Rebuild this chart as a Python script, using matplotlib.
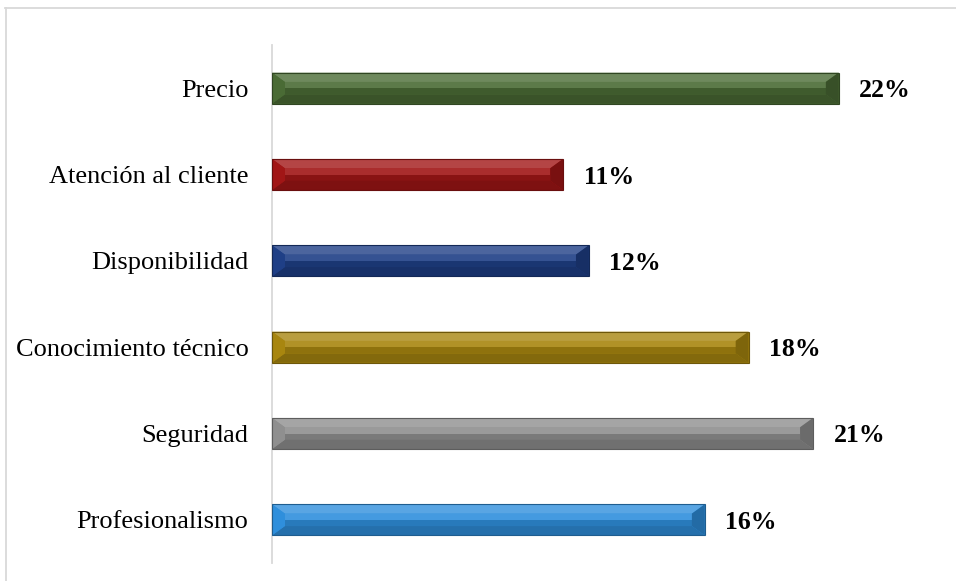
import numpy as np
import matplotlib
matplotlib.use('Agg')
import matplotlib.pyplot as plt
from matplotlib.patches import Polygon
from matplotlib.lines import Line2D
from matplotlib.colors import to_rgb

# 数据
categorias = ['Profesionalismo', 'Seguridad', 'Conocimiento técnico',
              'Disponibilidad', 'Atención al cliente', 'Precio']
valores = [16.8, 21.0, 18.5, 12.3, 11.3, 22.0]
etiquetas = ['16%', '21%', '18%', '12%', '11%', '22%']
colores = ['#2f8fdc', '#8f8f8f', '#a8860f', '#1f3f86', '#a11616', '#4a6b35']

plt.rcParams['font.family'] = ['Liberation Serif', 'DejaVu Serif']

fig = plt.figure(figsize=(9.56, 5.81), dpi=100)
ax = fig.add_axes([272 / 956, 1 - 563 / 581, (916 - 272) / 956, (563 - 45) / 581])

y = np.arange(len(categorias))
alto = 0.36
barras = ax.barh(y, valores, height=alto, color=colores, zorder=2)


def mezclar(c, k):
    # k>0 aclarar, k<0 oscurecer
    r = np.array(to_rgb(c))
    if k > 0:
        return tuple(r + (1 - r) * k)
    return tuple(r * (1 + k))


# efecto biselado de cada barra (y1 = arriba en pantalla)
for b, c in zip(barras, colores):
    x0, y0 = b.get_x(), b.get_y()
    w, h = b.get_width(), b.get_height()
    x1, y1 = x0 + w, y0 + h
    ym = y0 + h / 2
    dx = 0.5  # ancho del bisel en unidades de datos
    dy = h * 0.3
    # banda superior clara
    ax.add_patch(Polygon([(x0, y1), (x1, y1), (x1 - dx, y1 - dy), (x0 + dx, y1 - dy)],
                         closed=True, color=mezclar(c, 0.2), lw=0, zorder=3))
    ax.add_patch(Polygon([(x0 + dx, y1 - dy), (x1 - dx, y1 - dy), (x1 - dx, ym), (x0 + dx, ym)],
                         closed=True, color=mezclar(c, 0.1), lw=0, zorder=3))
    ax.add_patch(Polygon([(x0 + dx, ym), (x1 - dx, ym), (x1 - dx, y0 + dy), (x0 + dx, y0 + dy)],
                         closed=True, color=mezclar(c, -0.15), lw=0, zorder=3))
    # banda inferior oscura
    ax.add_patch(Polygon([(x0, y0), (x1, y0), (x1 - dx, y0 + dy), (x0 + dx, y0 + dy)],
                         closed=True, color=mezclar(c, -0.22), lw=0, zorder=3))
    # extremos
    ax.add_patch(Polygon([(x0, y0), (x0 + dx, y0 + dy), (x0 + dx, y1 - dy), (x0, y1)],
                         closed=True, color=mezclar(c, 0.0), lw=0, zorder=3))
    ax.add_patch(Polygon([(x1, y0), (x1 - dx, y0 + dy), (x1 - dx, y1 - dy), (x1, y1)],
                         closed=True, color=mezclar(c, -0.25), lw=0, zorder=3))
    ax.add_patch(Polygon([(x0, y0), (x1, y0), (x1, y1), (x0, y1)], closed=True,
                         fill=False, ec=mezclar(c, -0.35), lw=0.8, zorder=4))

for v, t, yy in zip(valores, etiquetas, y):
    ax.text(v + 0.8, yy, t, va='center_baseline', ha='left', fontsize=18.5,
            fontweight='bold', color='black')

ax.set_xlim(0, 25)
ax.set_ylim(-0.5, len(categorias) - 0.5)
ax.set_yticks(y)
ax.set_yticklabels(categorias, fontsize=19)
ax.tick_params(axis='y', length=0, pad=17)
ax.set_xticks([])
for s in ['top', 'right', 'bottom']:
    ax.spines[s].set_visible(False)
ax.spines['left'].set_color('#d9d9d9')
ax.spines['left'].set_linewidth(1.3)

# marco exterior
fig.add_artist(Line2D([5 / 956, 1], [1 - 7.5 / 581, 1 - 7.5 / 581], color='#d9d9d9', lw=1.3))
fig.add_artist(Line2D([5.5 / 956, 5.5 / 956], [0, 1 - 7.5 / 581], color='#d9d9d9', lw=1.3))

fig.savefig('out.png', dpi=100)
